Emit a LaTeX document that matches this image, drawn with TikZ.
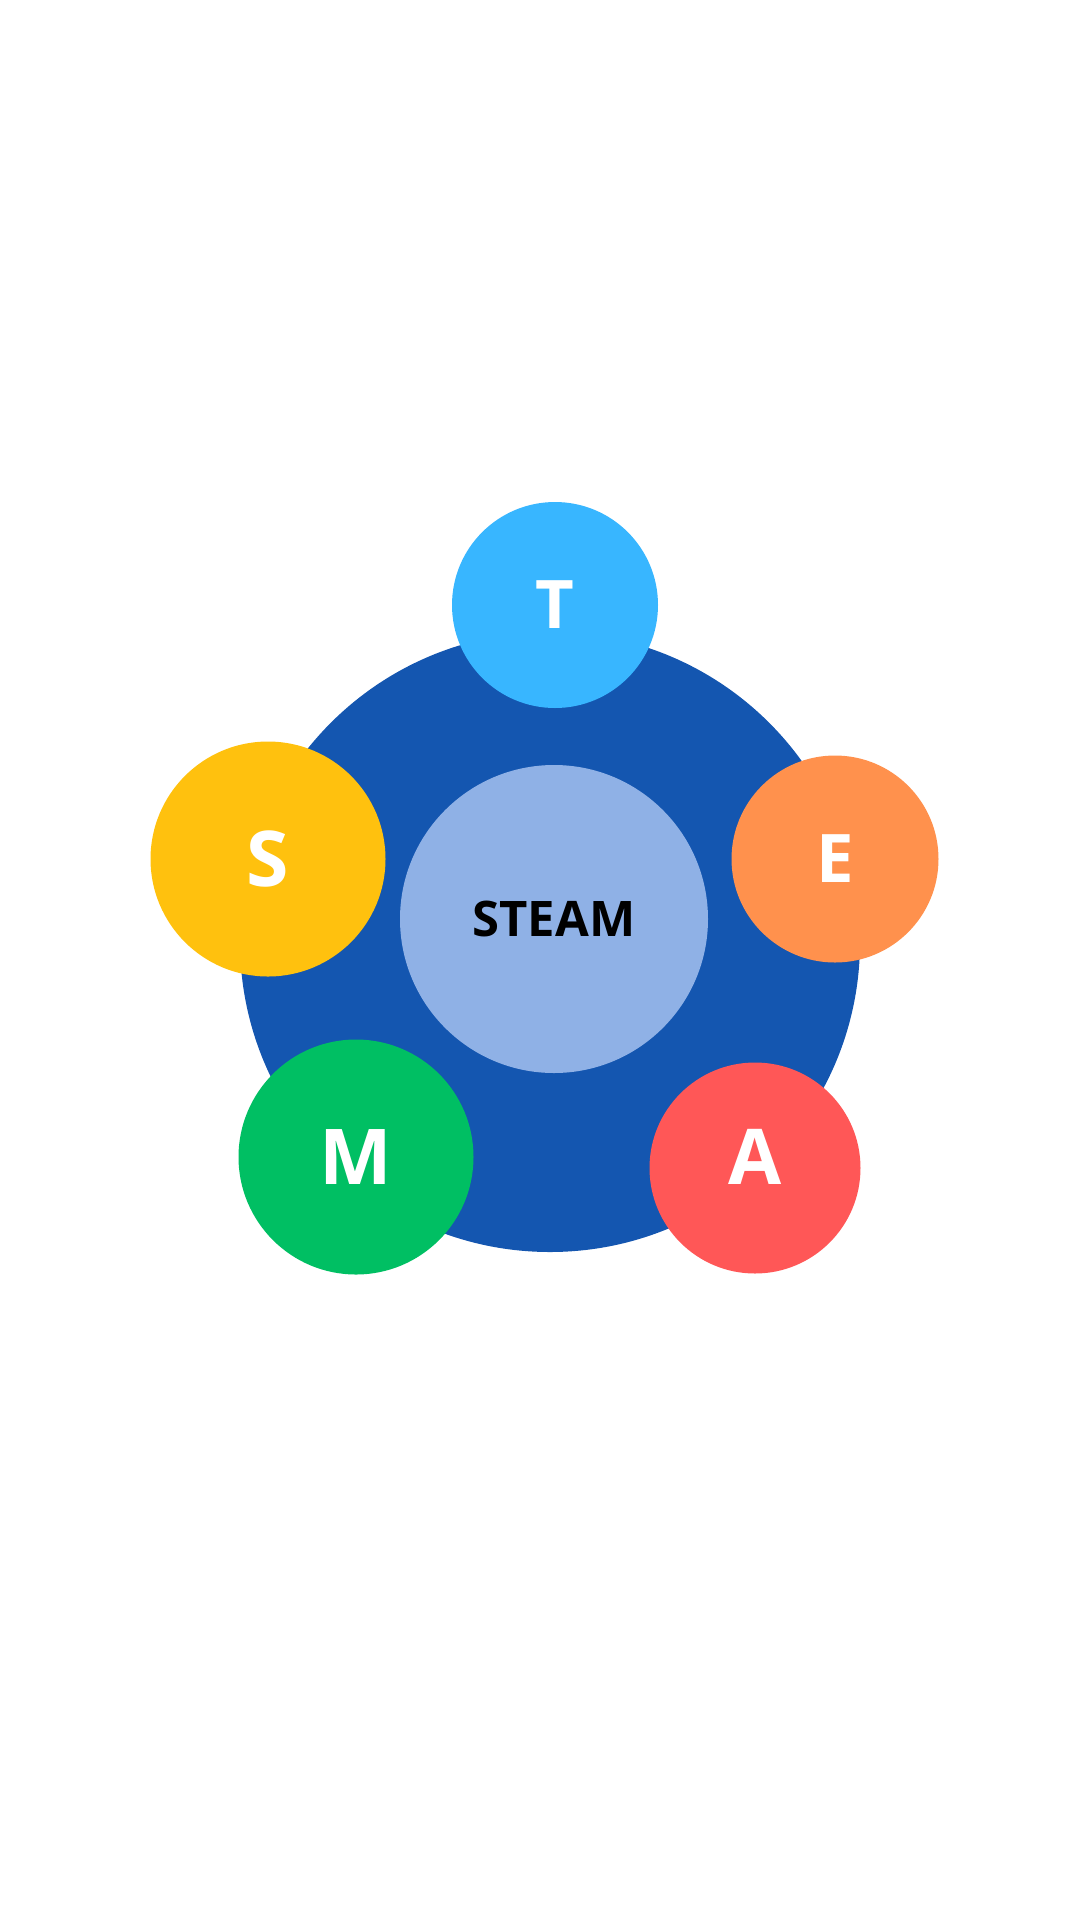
\documentclass[tikz,border=0pt]{standalone}
\usepackage{fontspec}
\setsansfont{Open Sans}
\usepackage{tikz}
\usepackage{xcolor}
\definecolor{ringblue}{HTML}{1456B0}
\definecolor{coreblue}{HTML}{8FB1E6}
\definecolor{techblue}{HTML}{38B6FF}
\definecolor{sciyellow}{HTML}{FFC10E}
\definecolor{engorange}{HTML}{FF914D}
\definecolor{mathgreen}{HTML}{00BF63}
\definecolor{artred}{HTML}{FF5757}
\tikzstyle{ball} = [circle, inner sep=0pt, text=white,
    font=\sffamily\bfseries\fontsize{67}{67}\selectfont]
\tikzstyle{bigball} = [ball, font=\sffamily\bfseries\fontsize{77}{77}\selectfont]

\begin{document}
\begin{tikzpicture}[x=1pt, y=-1pt]
    \useasboundingbox (0,0) rectangle (1080,1920);
    % ring and core
    \node [circle, fill=ringblue, minimum size=620pt] (ring) at (550,942) {};
    \node [circle, fill=coreblue, minimum size=308pt, inner sep=0pt,
        font=\sffamily\bfseries\fontsize{49}{49}\selectfont] (core) at (554,919) {STEAM};
    % the five letters
    \node [ball, fill=techblue, minimum size=206pt] (t) at (555,605) {T};
    \node [bigball, fill=sciyellow, minimum size=235pt] (s) at (268,859) {S};
    \node [ball, fill=engorange, minimum size=207pt] (e) at (835,859) {E};
    \node [bigball, fill=mathgreen, minimum size=235pt] (m) at (356,1157) {M};
    \node [bigball, fill=artred, minimum size=211pt] (a) at (755,1168) {\raisebox{22pt}{A}};
\end{tikzpicture}
\end{document}
